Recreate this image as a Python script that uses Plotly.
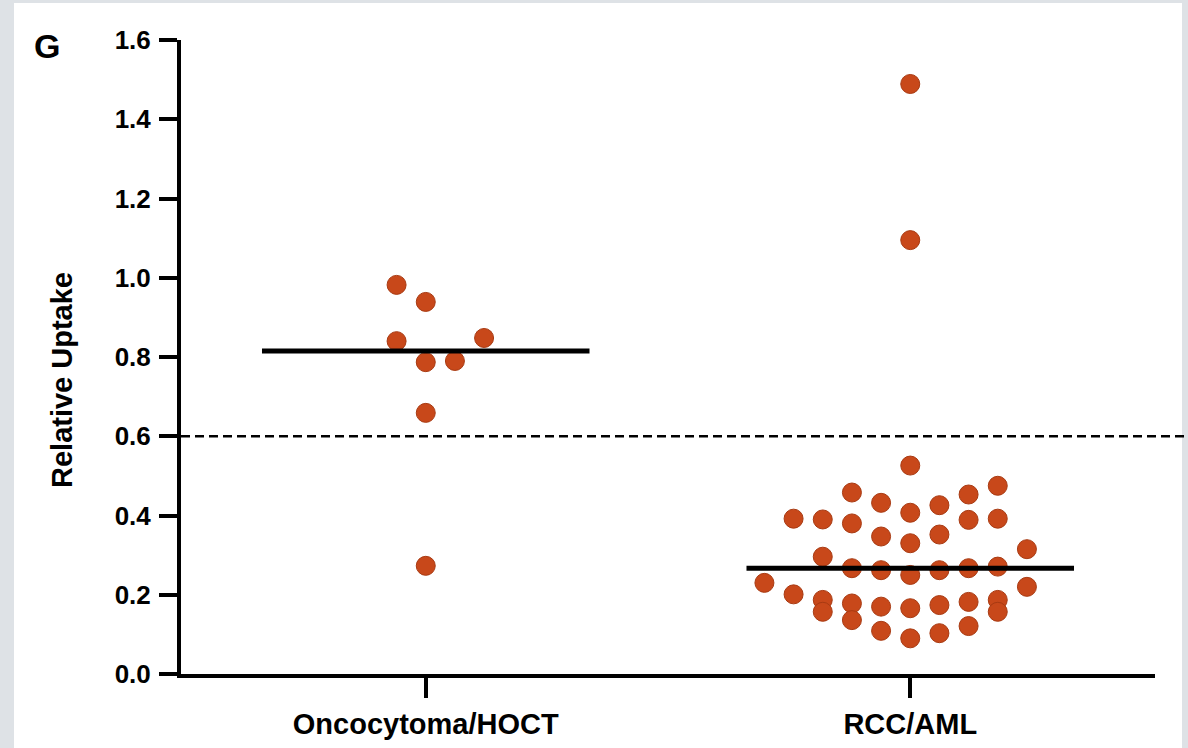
import numpy as np
import plotly.graph_objects as go

# ---- data ----
categories = ["Oncocytoma/HOCT", "RCC/AML"]
y_tick_vals = [0.0, 0.2, 0.4, 0.6, 0.8, 1.0, 1.2, 1.4, 1.6]
threshold = 0.6

onco_values = [0.982, 0.939, 0.840, 0.848, 0.787, 0.790, 0.659, 0.273]
rcc_values = [
    1.489, 1.095, 0.526,
    0.458, 0.432, 0.407, 0.426, 0.453, 0.475,
    0.392, 0.390, 0.380, 0.389, 0.392,
    0.347, 0.330, 0.352, 0.315,
    0.296,
    0.267, 0.262, 0.250, 0.262, 0.267, 0.271,
    0.230, 0.220,
    0.201,
    0.187, 0.157,
    0.178, 0.136,
    0.170, 0.109,
    0.166, 0.090,
    0.174, 0.103,
    0.182, 0.121,
    0.187, 0.157,
]

# ---- layout (swarm column index of each dot) ----
onco_cols = [-1, 0, -1, 2, 0, 1, 0, 0]
rcc_cols = [
    0, 0, 0,
    -2, -1, 0, 1, 2, 3,
    -4, -3, -2, 2, 3,
    -1, 0, 1, 4,
    -3,
    -2, -1, 0, 1, 2, 3,
    -5, 4,
    -4,
    -3, -3,
    -2, -2,
    -1, -1,
    0, 0,
    1, 1,
    2, 2,
    3, 3,
]
COL_STEP = 0.0602
HALF_MEDIAN = 0.338
DOT_COLOR = "#c8481a"
PAGE_GREY = "#dee2e6"
FONT = "Liberation Sans, Arial, Helvetica, sans-serif"

W, H = 1188, 748
ML, MR, MT, MB = 181, 33, 40, 74
PW, PH = W - ML - MR, H - MT - MB

def px_x(p):
    return (p - ML) / PW

def px_y(p):
    return (H - MB - p) / PH

fig = go.Figure()

groups = [(1, onco_values, onco_cols), (2, rcc_values, rcc_cols)]
for center, vals, cols in groups:
    xs = [center + c * COL_STEP for c in cols]
    fig.add_trace(go.Scatter(
        x=xs, y=vals, mode="markers",
        marker=dict(size=19, color=DOT_COLOR, line=dict(color="#a83a12", width=1)),
        hoverinfo="y", showlegend=False,
    ))

for center, vals, cols in groups:
    med = float(np.median(vals))
    fig.add_trace(go.Scatter(
        x=[center - HALF_MEDIAN, center + HALF_MEDIAN], y=[med, med],
        mode="lines", line=dict(color="black", width=5),
        hoverinfo="skip", showlegend=False,
    ))

# white panel on grey page
fig.add_shape(type="rect", xref="paper", yref="paper",
              x0=px_x(14), x1=px_x(1182), y0=px_y(760), y1=px_y(3),
              fillcolor="white", line=dict(width=0), layer="below")

# threshold dashed line
fig.add_shape(type="line", xref="paper", yref="y",
              x0=0, x1=px_x(1186), y0=threshold, y1=threshold,
              line=dict(color="black", width=2.5, dash="9px,5px"))

fig.add_annotation(text="G", xref="paper", yref="paper",
                   x=px_x(47), y=px_y(46), showarrow=False,
                   xanchor="center", yanchor="middle",
                   font=dict(family=FONT, size=34, color="black", weight="bold"))

fig.add_annotation(text="Relative Uptake", xref="paper", yref="paper",
                   x=px_x(62), y=px_y(380), showarrow=False, textangle=-90,
                   xanchor="center", yanchor="middle",
                   font=dict(family=FONT, size=29, color="black", weight="bold"))

fig.update_layout(
    width=W, height=H, autosize=False,
    margin=dict(l=ML, r=MR, t=MT, b=MB, pad=0, autoexpand=False),
    paper_bgcolor=PAGE_GREY,
    plot_bgcolor="rgba(0,0,0,0)",
    font=dict(family=FONT, color="black"),
    xaxis=dict(
        range=[1 - 245 / 485, 2 + 245 / 485],
        tickvals=[1, 2], ticktext=categories,
        showline=True, linecolor="black", linewidth=4,
        ticks="outside", ticklen=20, tickwidth=4, tickcolor="black",
        showgrid=False, zeroline=False, automargin=False,
        tickfont=dict(family=FONT, size=29, color="black", weight="bold"),
        ticklabelstandoff=1,
    ),
    yaxis=dict(
        range=[0, 1.6], tickvals=y_tick_vals,
        ticktext=[f"{v:.1f}" for v in y_tick_vals],
        showline=True, linecolor="black", linewidth=4,
        ticks="outside", ticklen=18, tickwidth=4, tickcolor="black",
        showgrid=False, zeroline=False, automargin=False,
        tickfont=dict(family=FONT, size=26, color="black", weight="bold"),
        ticklabelstandoff=3,
    ),
)

fig.write_html(
    "out.html",
    config={"displayModeBar": False},
    post_script="document.body.style.margin='0';document.body.style.background='%s';" % PAGE_GREY,
)
